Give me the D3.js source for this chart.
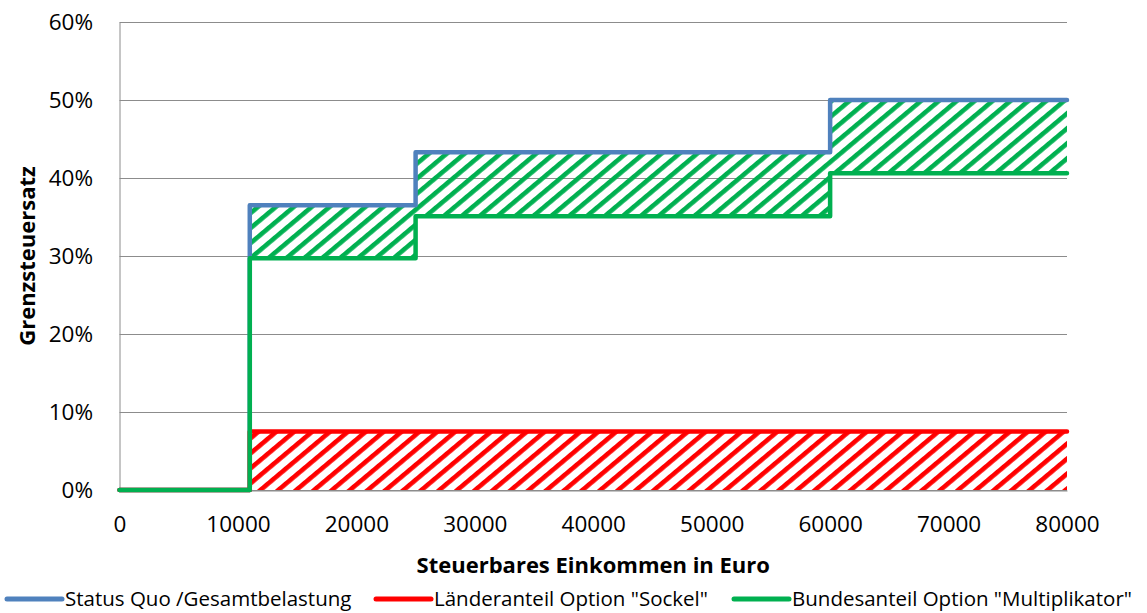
<!DOCTYPE html>
<html>
<head>
<meta charset="utf-8">
<script src="https://cdn.jsdelivr.net/npm/d3@7"></script>
<style>
  html, body { margin: 0; padding: 0; background: #fff; }
  svg { display: block; }
  text { font-family: "Open Sans", "Noto Sans", sans-serif; fill: #000; }
</style>
</head>
<body>
<svg id="chart" width="1147" height="613"></svg>
<script>
// ---- data ----
const breaks = [0, 11000, 25000, 60000, 80000];           // Einkommensgrenzen
const statusQuo = [0, 0.365, 0.433, 0.500];                // Status Quo /Gesamtbelastung
const laender = [0, 0.075, 0.075, 0.075];                  // Länderanteil Option "Sockel"
const bund = [0, 0.297, 0.351, 0.406];                     // Bundesanteil Option "Multiplikator"
const xTicks = [0, 10000, 20000, 30000, 40000, 50000, 60000, 70000, 80000];
const yTicks = [0, 0.1, 0.2, 0.3, 0.4, 0.5, 0.6];
const seriesNames = ['Status Quo /Gesamtbelastung', 'Länderanteil Option "Sockel"', 'Bundesanteil Option "Multiplikator"'];
const seriesColors = ['#4F81BD', '#FF0000', '#00B050'];

const svg = d3.select('#chart');
const pLeft = 119.5, pRight = 1067, pTop = 22, pBottom = 490;
const x = d3.scaleLinear().domain([0, 80000]).range([pLeft, pRight]);
const y = d3.scaleLinear().domain([0, 0.6]).range([pBottom, pTop]);

// patterns: diagonal stripes
const defs = svg.append('defs');
function hatch(id, color) {
  const p = defs.append('pattern').attr('id', id)
    .attr('patternUnits', 'userSpaceOnUse')
    .attr('width', 11.5).attr('height', 20)
    .attr('patternTransform', 'rotate(50)');
  p.append('rect').attr('x', 0).attr('y', 0).attr('width', 4.6).attr('height', 20).attr('fill', color);
}
hatch('hatchGreen', seriesColors[2]);
hatch('hatchRed', seriesColors[1]);

// gridlines
svg.append('g').selectAll('line').data(yTicks).join('line')
  .attr('x1', pLeft).attr('x2', pRight)
  .attr('y1', d => Math.round(y(d)) + 0.5).attr('y2', d => Math.round(y(d)) + 0.5)
  .attr('stroke', '#8c8c8c').attr('stroke-width', 1);

// axes
const yAxis = svg.append('g').attr('transform', `translate(${pLeft},0)`)
  .call(d3.axisLeft(y).tickValues(yTicks).tickSize(0).tickPadding(26.5).tickFormat(d3.format('.0%')));
yAxis.select('.domain').attr('stroke', '#8c8c8c');
yAxis.selectAll('text').attr('font-size', 22.5).attr('font-family', '"Open Sans", sans-serif');

const xAxis = svg.append('g').attr('transform', `translate(0,${pBottom + 0.5})`)
  .call(d3.axisBottom(x).tickValues(xTicks).tickSize(0).tickPadding(26).tickFormat(d3.format('d')));
xAxis.select('.domain').attr('stroke', '#8c8c8c');
xAxis.selectAll('text').attr('font-size', 22.5).attr('font-family', '"Open Sans", sans-serif');

// step data
function pts(vals) {
  const a = vals.map((v, i) => ({ x: breaks[i], y: v }));
  a.push({ x: breaks[breaks.length - 1], y: vals[vals.length - 1] });
  return a;
}
function areaData(lo, hi) {
  const a = [];
  for (let i = 1; i < breaks.length - 1; i++) a.push({ x: breaks[i], y0: lo[i], y1: hi[i] });
  a.push({ x: breaks[breaks.length - 1], y0: lo[lo.length - 1], y1: hi[hi.length - 1] });
  return a;
}
const area = d3.area().curve(d3.curveStepAfter).x(d => x(d.x)).y0(d => y(d.y0)).y1(d => y(d.y1));
svg.append('path').datum(areaData(bund, statusQuo)).attr('d', area).attr('fill', 'url(#hatchGreen)');
svg.append('path').datum(areaData([0, 0, 0, 0], laender)).attr('d', area).attr('fill', 'url(#hatchRed)');

// lines
const line = d3.line().curve(d3.curveStepAfter).x(d => x(d.x)).y(d => y(d.y));
[statusQuo, laender, bund].forEach((vals, i) => {
  svg.append('path').datum(pts(vals)).attr('d', line)
    .attr('fill', 'none').attr('stroke', seriesColors[i]).attr('stroke-width', 4.5)
    .attr('stroke-linejoin', 'round').attr('stroke-linecap', 'round');
});

// axis titles
svg.append('text').attr('x', (pLeft + pRight) / 2).attr('y', 573).attr('text-anchor', 'middle')
  .attr('font-size', 22).attr('font-weight', 'bold').text('Steuerbares Einkommen in Euro');
svg.append('text').attr('transform', `translate(35,${(pTop + pBottom) / 2}) rotate(-90)`)
  .attr('text-anchor', 'middle').attr('font-size', 22).attr('font-weight', 'bold').text('Grenzsteuersatz');

// legend
const legendX = [7, 376, 734];
const lg = svg.append('g');
seriesNames.forEach((n, i) => {
  lg.append('line').attr('x1', legendX[i]).attr('x2', legendX[i] + 55).attr('y1', 599).attr('y2', 599)
    .attr('stroke', seriesColors[i]).attr('stroke-width', 5).attr('stroke-linecap', 'round');
  lg.append('text').attr('x', legendX[i] + 58).attr('y', 606).attr('font-size', 20.5).text(n);
});
</script>
</body>
</html>
